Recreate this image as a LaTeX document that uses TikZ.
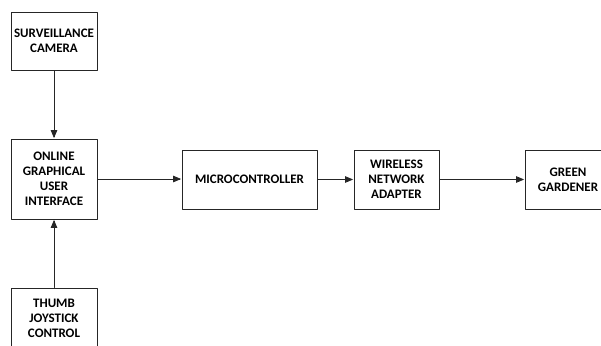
\documentclass[tikz,border=0pt]{standalone}
\usepackage{fontspec}
\setmainfont{Carlito}
\usetikzlibrary{arrows}

\begin{document}
\begin{tikzpicture}[x=1pt,y=-1pt,>=triangle 45,line cap=round,line join=round]
\tikzset{
  blockbox/.style={draw=black!85,line width=0.9pt,align=center,inner sep=0pt,
    font=\fontsize{13}{15}\selectfont\bfseries,minimum height=59pt},
  flow/.style={->,draw=black!85,line width=0.8pt,shorten >=0.5pt}
}
\useasboundingbox (0,0) rectangle (601,345);
\clip (0,0) rectangle (601,345);
% left column
\node[blockbox,minimum width=86pt,minimum height=58pt] (camera) at (54,41) {SURVEILLANCE\\CAMERA};
\node[blockbox,minimum width=86pt,minimum height=80pt] (gui) at (54,179) {ONLINE\\GRAPHICAL\\USER\\INTERFACE};
\node[blockbox,minimum width=86pt,minimum height=60pt] (thumb) at (54,318) {THUMB\\JOYSTICK\\CONTROL};
% right row
\node[blockbox,minimum width=135pt] (micro) at (249.5,179.5) {MICROCONTROLLER};
\node[blockbox,minimum width=85pt] (wireless) at (396.5,179.5) {WIRELESS\\NETWORK\\ADAPTER};
\node[blockbox,minimum width=86pt] (green) at (568,179.5) {GREEN\\GARDENER};
\draw[flow] (camera) -- (gui);
\draw[flow] (thumb) -- (gui);
\draw[flow] (gui.east) -- (micro.west |- gui.east);
\draw[flow] (micro) -- (wireless);
\draw[flow] (wireless) -- (green);
\end{tikzpicture}
\end{document}
